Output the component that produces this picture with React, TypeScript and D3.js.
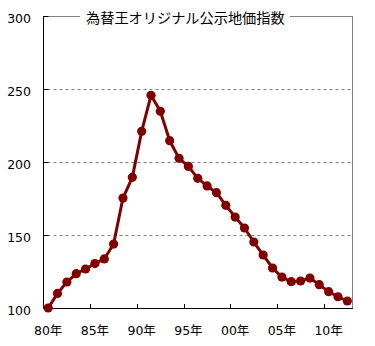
import React from "react";
import * as d3 from "d3";

const years = [
  1980, 1981, 1982, 1983, 1984, 1985, 1986, 1987, 1988, 1989, 1990,
  1991, 1992, 1993, 1994, 1995, 1996, 1997, 1998, 1999, 2000,
  2001, 2002, 2003, 2004, 2005, 2006, 2007, 2008, 2009, 2010, 2011, 2012,
];
const indexValues = [
  100, 110.0, 117.8, 123.5, 126.7, 130.4, 133.6, 143.8, 175.3, 189.5, 221.0,
  245.7, 234.7, 214.6, 202.5, 197.0, 188.8, 183.6, 179.0, 170.3, 162.3,
  154.8, 145.2, 136.3, 127.4, 121.2, 118.0, 118.5, 120.5, 116.0, 111.2, 107.7, 104.8,
];
const xTickYears = [1980, 1985, 1990, 1995, 2000, 2005, 2010];
const xTickLabels = ["80年", "85年", "90年", "95年", "00年", "05年", "10年"];
const yTicks = [100, 150, 200, 250, 300];
const gridValues = [150, 200, 250];
const title = "為替王オリジナル公示地価指数";

export default function App() {
  const W = 375, H = 346;
  const left = 43.5, right = 352, top = 16, bottom = 308;
  const x = d3.scaleBand<number>().domain(years).range([left, right]).padding(0);
  const y = d3.scaleLinear().domain([100, 300]).range([bottom, top]);
  const cx = (yr: number) => (x(yr) as number) + x.bandwidth() / 2;
  const line = d3
    .line<number>()
    .x((_, i) => cx(years[i]))
    .y((v) => y(v));
  const numFont = "'DejaVu Sans', 'Noto Sans CJK JP', sans-serif";
  const color = "#800000";
  return (
    <svg
      width={W}
      height={H}
      style={{ position: "absolute", left: 0, top: 0, background: "#fff" }}
    >
      <rect x={0} y={0} width={W} height={H} fill="#fff" />
      {gridValues.map((v) => (
        <line
          key={v}
          x1={left + 4}
          x2={right}
          y1={Math.round(y(v)) + 0.5}
          y2={Math.round(y(v)) + 0.5}
          stroke="#808080"
          strokeDasharray="3,3"
        />
      ))}
      {/* top and right border */}
      <line x1={left} x2={right} y1={top + 0.5} y2={top + 0.5} stroke="#808080" />
      <line x1={right + 0.5} x2={right + 0.5} y1={top} y2={bottom} stroke="#808080" />
      {/* axes */}
      <line x1={left} x2={left} y1={top} y2={bottom + 0.5} stroke="#000" />
      <line x1={left} x2={right + 1} y1={bottom + 0.5} y2={bottom + 0.5} stroke="#000" />
      {yTicks.map((v) => (
        <g key={v}>
          <line
            x1={left}
            x2={left + 5}
            y1={Math.round(y(v)) + 0.5}
            y2={Math.round(y(v)) + 0.5}
            stroke="#000"
          />
          <text
            x={31}
            y={y(v) + 2}
            textAnchor="end"
            dominantBaseline="central"
            fontFamily={numFont}
            fontSize={12.5}
            fill="#000"
          >
            {v}
          </text>
        </g>
      ))}
      {years.map((yr, i) =>
        i > 0 && i % 5 === 0 ? (
          <line
            key={yr}
            x1={Math.round(x(yr) as number) + 0.5}
            x2={Math.round(x(yr) as number) + 0.5}
            y1={bottom}
            y2={bottom - 4}
            stroke="#000"
          />
        ) : null
      )}
      {xTickYears.map((yr, i) => (
        <text
          key={yr}
          x={cx(yr)}
          y={330}
          textAnchor="middle"
          dominantBaseline="central"
          fontFamily={numFont}
          fontSize={12.5}
          fill="#000"
        >
          {xTickLabels[i]}
        </text>
      ))}
      {/* title */}
      <rect x={80} y={8} width={210} height={17} fill="#fff" />
      <text
        x={86}
        y={17}
        dominantBaseline="central"
        fontFamily="'Noto Sans CJK JP', sans-serif"
        fontSize={14.2}
        fill="#000"
      >
        {title}
      </text>
      {/* series */}
      <path d={line(indexValues) || ""} fill="none" stroke={color} strokeWidth={3} strokeLinejoin="round" />
      {indexValues.map((v, i) => (
        <circle key={years[i]} cx={cx(years[i])} cy={y(v)} r={4.6} fill={color} />
      ))}
    </svg>
  );
}
